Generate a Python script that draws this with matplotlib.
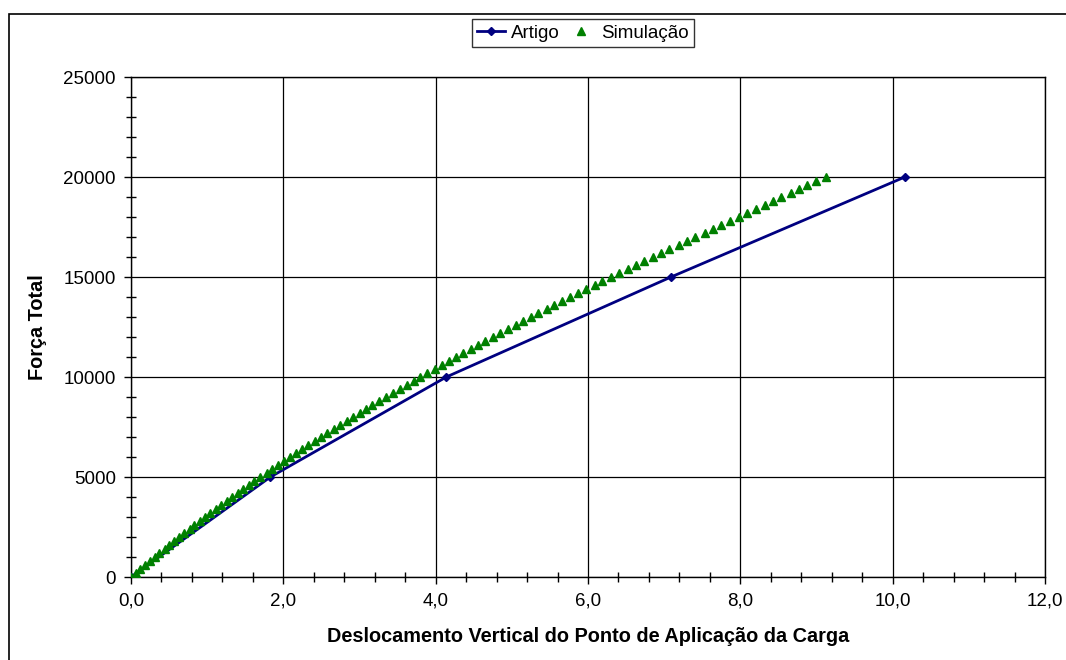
import matplotlib
matplotlib.use("Agg")
import matplotlib.pyplot as plt
from matplotlib.patches import Rectangle
from matplotlib.ticker import MultipleLocator, FuncFormatter

plt.rcParams['font.family'] = ['Liberation Sans', 'DejaVu Sans']

# Data
artigo_x = [0.0, 1.83, 4.14, 7.09, 10.16]
artigo_f = [0, 5000, 10000, 15000, 20000]

sim_f = [0, 200, 400, 600, 800, 1000, 1200, 1400, 1600, 1800,
         2000, 2200, 2400, 2600, 2800, 3000, 3200, 3400, 3600, 3800,
         4000, 4200, 4400, 4600, 4800, 5000, 5200, 5400, 5600, 5800,
         6000, 6200, 6400, 6600, 6800, 7000, 7200, 7400, 7600, 7800,
         8000, 8200, 8400, 8600, 8800, 9000, 9200, 9400, 9600, 9800,
         10000, 10200, 10400, 10600, 10800, 11000, 11200, 11400, 11600, 11800,
         12000, 12200, 12400, 12600, 12800, 13000, 13200, 13400, 13600, 13800,
         14000, 14200, 14400, 14600, 14800, 15000, 15200, 15400, 15600, 15800,
         16000, 16200, 16400, 16600, 16800, 17000, 17200, 17400, 17600, 17800,
         18000, 18200, 18400, 18600, 18800, 19000, 19200, 19400, 19600, 19800,
         20000]
sim_x = [0.00, 0.06, 0.12, 0.18, 0.25, 0.31, 0.37, 0.44, 0.50, 0.57,
         0.63, 0.70, 0.77, 0.83, 0.90, 0.97, 1.04, 1.11, 1.18, 1.26,
         1.33, 1.40, 1.47, 1.55, 1.62, 1.70, 1.78, 1.85, 1.93, 2.01,
         2.09, 2.17, 2.25, 2.33, 2.41, 2.49, 2.57, 2.66, 2.74, 2.83,
         2.91, 3.00, 3.08, 3.17, 3.26, 3.35, 3.44, 3.53, 3.62, 3.71,
         3.80, 3.89, 3.99, 4.08, 4.17, 4.27, 4.36, 4.46, 4.56, 4.65,
         4.75, 4.85, 4.95, 5.05, 5.15, 5.25, 5.35, 5.46, 5.56, 5.66,
         5.77, 5.87, 5.98, 6.09, 6.19, 6.30, 6.41, 6.52, 6.63, 6.74,
         6.85, 6.96, 7.07, 7.19, 7.30, 7.41, 7.53, 7.64, 7.75, 7.87,
         7.98, 8.09, 8.20, 8.32, 8.43, 8.54, 8.66, 8.77, 8.88, 9.00,
         9.12]

x_label = "Deslocamento Vertical do Ponto de Aplicação da Carga"
y_label = "Força Total"

fig = plt.figure(figsize=(10.66, 6.6), dpi=100)
fig.patch.set_facecolor('white')
# outer chart border
fig.patches.append(Rectangle((8.5 / 1066, -0.05), 1.2, 1 - 13.5 / 660 + 0.05,
                             transform=fig.transFigure, fill=False,
                             edgecolor='black', linewidth=1.2))

ax = fig.add_axes([131 / 1066, 1 - 577 / 660, (1045 - 131) / 1066, (577 - 77) / 660])
ax.set_xlim(0, 12)
ax.set_ylim(0, 25000)

ax.xaxis.set_major_locator(MultipleLocator(2))
ax.xaxis.set_minor_locator(MultipleLocator(0.4))
ax.yaxis.set_major_locator(MultipleLocator(5000))
ax.yaxis.set_minor_locator(MultipleLocator(1000))
ax.xaxis.set_major_formatter(FuncFormatter(lambda v, p: f"{v:.1f}".replace('.', ',')))
ax.yaxis.set_major_formatter(FuncFormatter(lambda v, p: f"{int(v)}"))

ax.grid(True, which='major', color='black', linewidth=0.9)
ax.set_axisbelow(True)
for s in ax.spines.values():
    s.set_color('black')
    s.set_linewidth(1.0)

ax.tick_params(which='major', direction='out', length=5, width=1, labelsize=13.5, pad=6)
ax.tick_params(which='minor', direction='inout', length=7, width=1)

ax.plot(artigo_x, artigo_f, color='#000080', linewidth=2, marker='D',
        markersize=4.5, label='Artigo', zorder=3)
ax.plot(sim_x, sim_f, linestyle='none', marker='^', color='#008000',
        markersize=5.5, label='Simulação', zorder=4)

ax.set_xlabel(x_label, fontsize=14.3, fontweight='bold', labelpad=13)
ax.set_ylabel(y_label, fontsize=14.3, fontweight='bold', labelpad=12)

leg = fig.legend(loc='center', bbox_to_anchor=(583 / 1066, 1 - 33 / 660), ncol=2,
                 fontsize=13.5, frameon=True, fancybox=False, shadow=False,
                 edgecolor='black', borderpad=0.3, handlelength=1.5,
                 handletextpad=0.3, columnspacing=0.4)
leg.get_frame().set_linewidth(1.0)

fig.savefig('out.png', dpi=100)
